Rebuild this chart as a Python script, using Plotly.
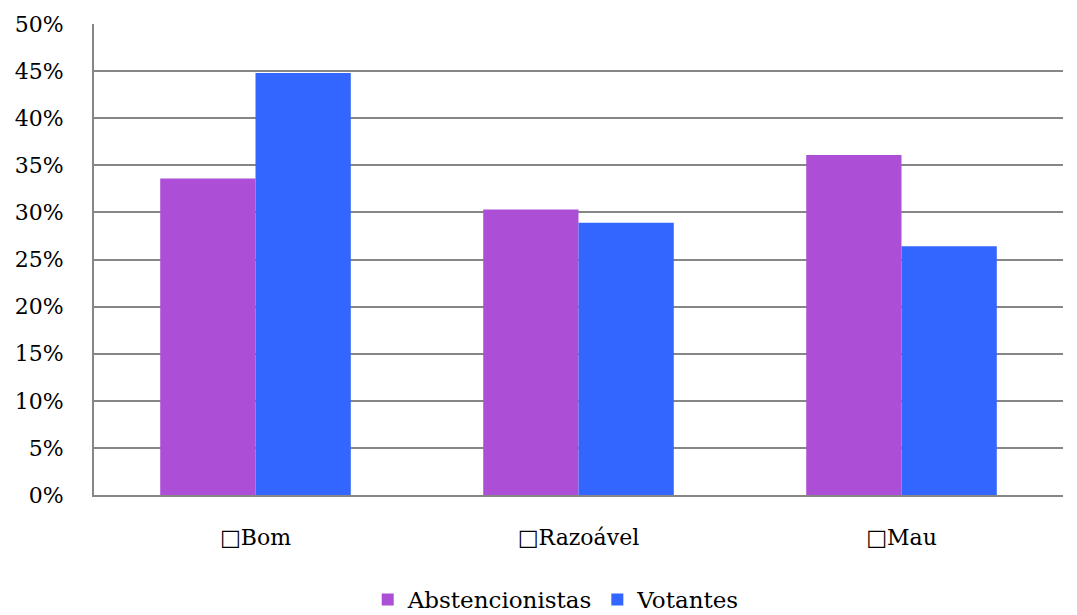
import plotly.graph_objects as go

categories = ["\u25a1Bom", "\u25a1Razoável", "\u25a1Mau"]
abstencionistas = [0.336, 0.303, 0.361]
votantes = [0.448, 0.289, 0.264]
tick_vals = [0, 0.05, 0.10, 0.15, 0.20, 0.25, 0.30, 0.35, 0.40, 0.45, 0.50]
tick_text = ["0%", "5%", "10%", "15%", "20%", "25%", "30%", "35%", "40%", "45%", "50%"]

FONT = "Rockwell, 'DejaVu Serif', serif"

fig = go.Figure()
fig.add_trace(go.Bar(name="Abstencionistas", x=categories, y=abstencionistas,
                     marker=dict(color="#AD4FD6", line=dict(width=0))))
fig.add_trace(go.Bar(name="Votantes", x=categories, y=votantes,
                     marker=dict(color="#3366FF", line=dict(width=0))))

fig.update_layout(
    width=1077, height=615,
    margin=dict(l=86, r=22, t=16, b=128, autoexpand=False),
    paper_bgcolor="white", plot_bgcolor="white",
    barmode="group", bargap=0.41, bargroupgap=0,
    font=dict(family=FONT, size=22, color="black"),
    showlegend=True,
    legend=dict(orientation="h", x=0.477, xanchor="center", y=-0.222, yanchor="middle",
                font=dict(family=FONT, size=23), itemwidth=30, traceorder="normal",
                tracegroupgap=0),
    xaxis=dict(showgrid=False, showline=True, linecolor="#868686", linewidth=2,
               ticks="", tickfont=dict(size=22), ticklabelstandoff=22, automargin=False),
    yaxis=dict(range=[0, 0.5], tickvals=tick_vals, ticktext=tick_text,
               showgrid=True, gridcolor="#868686", gridwidth=2,
               showline=True, linecolor="#868686", linewidth=2,
               ticks="", tickfont=dict(size=22), zeroline=False,
               ticklabelstandoff=24, automargin=False),
)

fig.write_html("out.html")
